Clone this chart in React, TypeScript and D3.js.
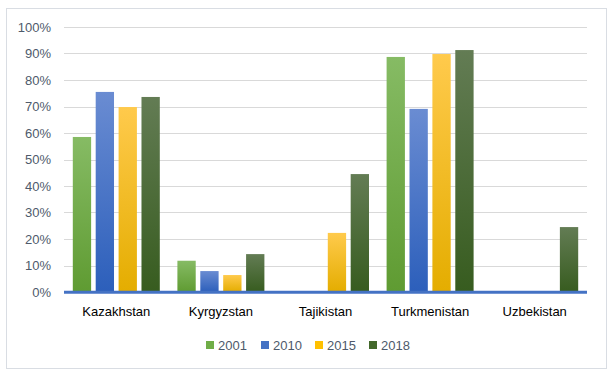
import React from "react";
import * as d3 from "d3";

const categories = ["Kazakhstan", "Kyrgyzstan", "Tajikistan", "Turkmenistan", "Uzbekistan"];
const seriesNames = ["2001", "2010", "2015", "2018"];
const v2001 = [58.5, 11.8, 0, 88.7, 0];
const v2010 = [75.5, 7.9, 0, 69.1, 0];
const v2015 = [69.8, 6.4, 22.3, 89.8, 0];
const v2018 = [73.6, 14.3, 44.5, 91.3, 24.5];
const yTicks = [0, 10, 20, 30, 40, 50, 60, 70, 80, 90, 100];

const seriesValues = [v2001, v2010, v2015, v2018];
const topColors = ["#86bb64", "#6a8cd2", "#ffca4c", "#637c54"];
const bottomColors = ["#5f9b32", "#2c5fbb", "#e4ad00", "#375c1f"];
const legendColors = ["#70ad47", "#4472c4", "#ffc000", "#43682b"];

const W = 614, H = 379;
const left = 64, right = 587, top = 27, bottom = 292;

export default function App() {
  const x0 = d3.scaleBand<string>().domain(categories).range([left, right]).paddingInner(0).paddingOuter(0);
  const groupW = 87;
  const x1 = d3.scaleBand<string>().domain(seriesNames).range([0, groupW]).paddingInner(0.2).paddingOuter(0);
  const y = d3.scaleLinear().domain([0, 100]).range([bottom, top]);
  const font = "'Liberation Sans', Arial, sans-serif";
  const legendX = [206, 261, 315, 369];

  return (
    <svg width={W} height={H} style={{ position: "absolute", left: 0, top: 0 }} fontFamily={font}>
      <defs>
        {seriesNames.map((s, i) => (
          <linearGradient key={s} id={`g${i}`} x1="0" y1="0" x2="0" y2="1">
            <stop offset="0" stopColor={topColors[i]} />
            <stop offset="1" stopColor={bottomColors[i]} />
          </linearGradient>
        ))}
      </defs>
      <rect x={0} y={0} width={W} height={H} fill="#fff" />
      <rect x={6.5} y={8.5} width={600} height={360} fill="#fff" stroke="#d9dde3" strokeWidth={1} />
      {yTicks.map((t) => (
        <g key={t}>
          {t > 0 && <line x1={left} x2={right} y1={Math.round(y(t)) + 0.5} y2={Math.round(y(t)) + 0.5} stroke="#d9d9d9" strokeWidth={1} />}
          <text x={51} y={y(t)} dy="0.35em" textAnchor="end" fontSize={13} fill="#4e5a6b">{t}%</text>
        </g>
      ))}
      {categories.map((c, ci) => {
        const gx = (x0(c) as number) + (x0.bandwidth() - groupW) / 2;
        return (
          <g key={c}>
            {seriesNames.map((s, si) => {
              const v = seriesValues[si][ci];
              if (!v) return null;
              return (
                <rect key={s} x={gx + (x1(s) as number)} y={y(v)} width={x1.bandwidth()} height={y(0) - y(v)} fill={`url(#g${si})`} />
              );
            })}
            <text x={(x0(c) as number) + x0.bandwidth() / 2} y={311} dy="0.35em" textAnchor="middle" fontSize={13} fill="#000">{c}</text>
          </g>
        );
      })}
      <line x1={left} x2={right} y1={292.3} y2={292.3} stroke="#4472c4" strokeWidth={3} />
      {seriesNames.map((s, i) => (
        <g key={s}>
          <rect x={legendX[i]} y={341} width={8} height={8} fill={legendColors[i]} />
          <text x={legendX[i] + 12} y={345} dy="0.35em" fontSize={13} fill="#4e5a6b">{s}</text>
        </g>
      ))}
    </svg>
  );
}
